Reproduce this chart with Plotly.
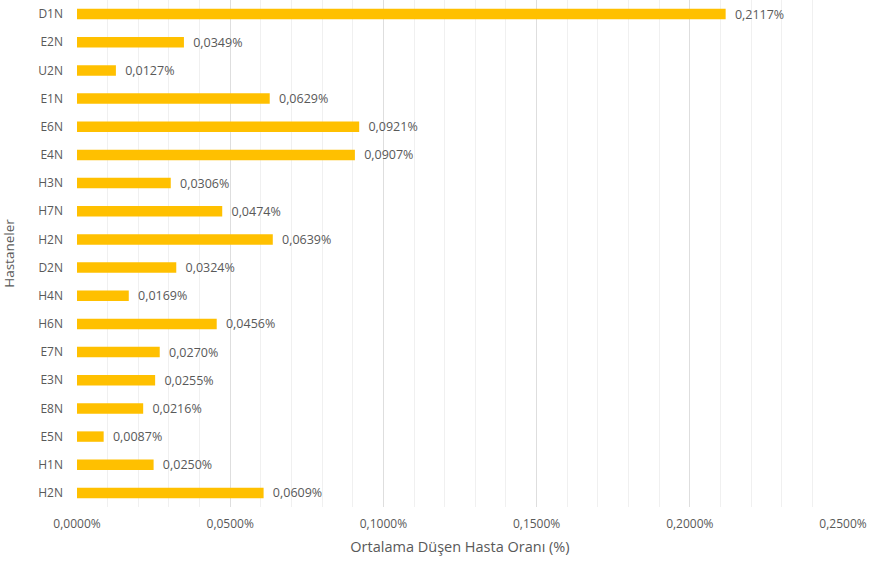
import plotly.graph_objects as go

hospitals = ["D1N", "E2N", "U2N", "E1N", "E6N", "E4N", "H3N", "H7N", "H2N",
             "D2N", "H4N", "H6N", "E7N", "E3N", "E8N", "E5N", "H1N", "H2N"]
rates = [0.2117, 0.0349, 0.0127, 0.0629, 0.0921, 0.0907, 0.0306, 0.0474, 0.0639,
         0.0324, 0.0169, 0.0456, 0.0270, 0.0255, 0.0216, 0.0087, 0.0250, 0.0609]
x_ticks = [0.0, 0.05, 0.10, 0.15, 0.20, 0.25]


def pct(v):
    return f"{v:.4f}%".replace(".", ",")


positions = list(range(len(hospitals)))
font = "Open Sans, Liberation Sans, sans-serif"
grey = "#595959"

fig = go.Figure(go.Bar(
    x=rates,
    y=positions,
    orientation="h",
    width=0.37,
    marker=dict(color="#FFC000", line=dict(width=0)),
    text=["\u2002" + pct(v) for v in rates],
    textposition="outside",
    constraintext="none",
    textfont=dict(family=font, size=12.5, color=grey),
    cliponaxis=False,
))

fig.update_layout(
    width=876, height=564,
    margin=dict(l=77, r=33, t=0, b=57),
    plot_bgcolor="white", paper_bgcolor="white",
    showlegend=False,
    uniformtext=dict(minsize=12, mode="show"),
    xaxis=dict(
        range=[0, 0.25],
        tickvals=x_ticks,
        ticktext=[pct(v) for v in x_ticks],
        tickfont=dict(family=font, size=12, color=grey),
        showgrid=True, gridcolor="#DEDEDE", gridwidth=1,
        minor=dict(dtick=0.01, showgrid=True, gridcolor="#F0F0F0", gridwidth=1),
        zeroline=False, showline=False,
        ticklabelstandoff=8,
        title=dict(text="Ortalama Düşen Hasta Oranı (%)",
                   font=dict(family=font, size=14.5, color=grey), standoff=10),
    ),
    yaxis=dict(
        tickvals=positions,
        ticktext=hospitals,
        range=[len(hospitals) - 0.5, -0.5],
        tickfont=dict(family=font, size=12, color=grey),
        showgrid=False, zeroline=False, showline=False,
        ticklabelstandoff=13,
        title=dict(text="Hastaneler", font=dict(family=font, size=13.5, color=grey),
                   standoff=22),
    ),
)

fig.write_html("out.html")
